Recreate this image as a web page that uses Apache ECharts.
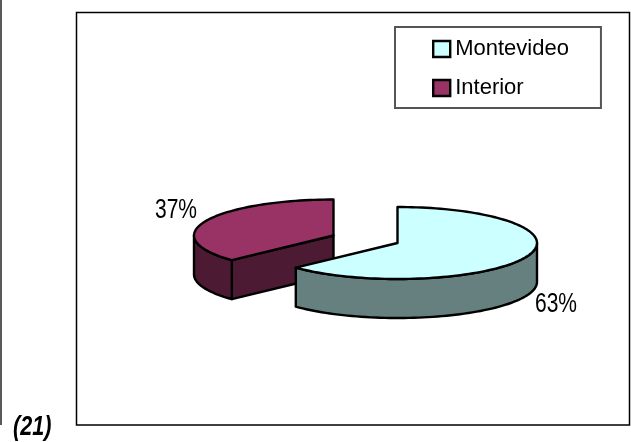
<!DOCTYPE html>
<html><head><meta charset="utf-8">
<style>html,body{margin:0;padding:0;background:#fff}#c{width:631px;height:442px}</style>
<script src="https://cdn.jsdelivr.net/npm/echarts@6/dist/echarts.min.js"></script></head>
<body><div id="c"></div>
<script>
const categories = ['Montevideo', 'Interior'];
const values = [63, 37];
const topColors = ['#CCFFFF', '#993366'];
const wallColors = ['#668080', '#4D1A33'];
const total = values.reduce((a, b) => a + b, 0);
const geo = [
  {cx: 397.5, cy: 243, lx: 556, ly: 304.5},
  {cx: 333.5, cy: 235.5, lx: 176, ly: 210.5}
];
const RX = 139.5, RY = 36, DEPTH = 39;
const FONT = '"Liberation Sans",Arial,sans-serif';

function pt(g, deg, dy) {
  const t = deg * Math.PI / 180;
  return [g.cx + RX * Math.sin(t), g.cy - RY * Math.cos(t) + (dy || 0)];
}
function arc(g, a0, a1, dy) {
  const n = Math.max(2, Math.ceil(Math.abs(a1 - a0) / 2)), out = [];
  for (let i = 0; i <= n; i++) out.push(pt(g, a0 + (a1 - a0) * i / n, dy));
  return out;
}
const sty = fill => ({fill, stroke: '#000', lineWidth: 2.4, lineJoin: 'round'});

function render(idx, startDeg, endDeg) {
  return function (params, api) {
    const g = geo[idx], children = [];
    const front0 = Math.max(startDeg, 90), front1 = Math.min(endDeg, 270);
    if (startDeg > 180) {
      const a = pt(g, startDeg), c = [g.cx, g.cy];
      children.push({type: 'polygon', shape: {points: [a, c, [c[0], c[1] + DEPTH], [a[0], a[1] + DEPTH]]}, style: sty(wallColors[idx])});
    }
    if (front1 > front0) {
      const wall = arc(g, front0, front1, 0).concat(arc(g, front1, front0, DEPTH));
      children.push({type: 'polygon', shape: {points: wall}, style: sty(wallColors[idx])});
    }
    const top = [[g.cx, g.cy]].concat(arc(g, startDeg, endDeg, 0));
    children.push({type: 'polygon', shape: {points: top}, style: sty(topColors[idx])});
    children.push({type: 'text', x: g.lx, y: g.ly, scaleX: 0.75, style: {
      text: Math.round(values[idx] / total * 100) + '%', x: 0, y: 0,
      align: 'center', verticalAlign: 'middle', font: '28px ' + FONT, fill: '#000'}});
    return {type: 'group', children};
  };
}

let acc = 0;
const series = categories.map((name, i) => {
  const s = acc / total * 360; acc += values[i];
  const e = acc / total * 360;
  return {
    type: 'custom', name, coordinateSystem: 'none',
    itemStyle: {color: topColors[i]},
    data: [values[i]], z: 2 - i,
    renderItem: render(i, s, e), silent: true
  };
});

const chart = echarts.init(document.getElementById('c'), null, {renderer: 'canvas'});
chart.setOption({
  animation: false,
  backgroundColor: '#fff',
  legend: {
    orient: 'vertical', left: 395, top: 27, data: categories,
    padding: [11, 32, 9, 37], itemGap: 17,
    itemWidth: 17, itemHeight: 16, icon: 'rect',
    backgroundColor: '#fff', borderColor: '#555', borderWidth: 2,
    selectedMode: false,
    itemStyle: {borderColor: '#000', borderWidth: 2.4},
    textStyle: {fontFamily: FONT, fontSize: 22, color: '#000'}
  },
  graphic: [
    {type: 'rect', z: -1, shape: {x: 76.5, y: 12.5, width: 553, height: 412.5}, style: {fill: '#fff', stroke: '#000', lineWidth: 1.5}},
    {type: 'line', z: -1, shape: {x1: 1, y1: 0, x2: 1, y2: 425}, style: {stroke: '#222', lineWidth: 1.5}},
    {type: 'text', z: -1, x: 13, y: 428, scaleX: 0.8, style: {text: '(21)', x: 0, y: 0, verticalAlign: 'middle', font: 'italic bold 27px ' + FONT, fill: '#000'}}
  ],
  series
});
</script></body></html>
